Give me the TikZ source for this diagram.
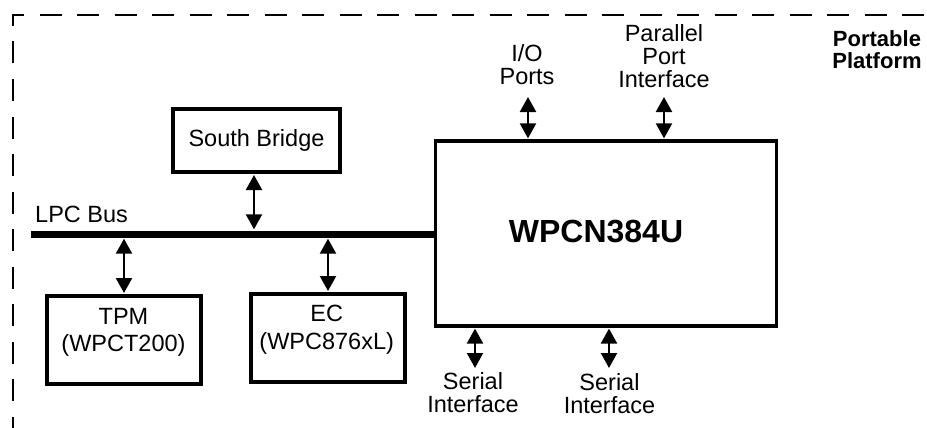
\documentclass[tikz,border=0pt]{standalone}
\usepackage{fontspec}
\setmainfont{Liberation Sans}
\usetikzlibrary{arrows.meta}
\begin{document}
\begin{tikzpicture}[x=1pt,y=-1pt,
  box/.style={draw,line width=3.6pt,inner sep=0pt},
  txt/.style={font=\fontsize{23.5}{23}\selectfont,align=center,inner sep=0pt},
  boxtxt/.style={font=\fontsize{23.5}{27.5}\selectfont,align=center,inner sep=0pt},
  biarrow/.style={line width=2.2pt,{Triangle[width=16pt,length=15pt]}-{Triangle[width=16pt,length=15pt]},shorten <=1pt,shorten >=1pt},
  frame/.style={line width=2.6pt,dash pattern=on 22pt off 15.5pt,dash phase=36pt}]
\useasboundingbox (0,0) rectangle (927,428);
% dashed platform frame
\coordinate (corner) at (13,15);
\coordinate (frameR) at (945,15);
\coordinate (frameB) at (13,440);
\draw[frame] (frameB) -- (corner) -- (frameR);
\node[font=\bfseries\fontsize{22}{22}\selectfont,align=center,inner sep=0pt] (plat) at (877,50) {Portable\\Platform};
% boxes
\node[box,minimum width=167.4pt,minimum height=63.4pt,font=\fontsize{23.5}{23}\selectfont] (sb) at (256.5,140.5) {South Bridge};
\node[draw,line width=3.2pt,inner sep=0pt,minimum width=341pt,minimum height=185pt] (wpcn) at (606,233.5) {};
\node[font=\bfseries\fontsize{32}{32}\selectfont,anchor=base,inner sep=0pt] (wpcnlbl) at (596,242) {WPCN384U};
\node[box,minimum width=154.4pt,minimum height=88.4pt] (tpm) at (124,340) {};
\node[boxtxt] (tpmtxt) at (123.5,332.2) {TPM\\(WPCT200)};
\node[box,minimum width=154.4pt,minimum height=88.4pt] (ec) at (328,338) {};
\node[boxtxt] (ectxt) at (326.7,329.7) {EC\\(WPC876xL)};
% LPC bus
\node[fill,inner sep=0pt,minimum width=406pt,minimum height=7pt] (bus) at (234,234) {};
\node[txt,anchor=base west] (lpc) at (35,222) {LPC Bus};
% bus arrows
\draw[biarrow] ([xshift=-2.5pt]sb.south) -- ([xshift=-2.5pt]sb.south |- bus.north);
\draw[biarrow] (tpm.north |- bus.south) -- (tpm.north);
\draw[biarrow] (ec.north |- bus.south) -- (ec.north);
% top interfaces
\node[txt] (iotxt) at (527,64.8) {I/O\\Ports};
\node[txt] (partxt) at (664,56.6) {Parallel\\Port\\Interface};
\coordinate (iotip) at (528,96);
\coordinate (partip) at (664,96);
\draw[biarrow] (iotip) -- (iotip |- wpcn.north);
\draw[biarrow] (partip) -- (partip |- wpcn.north);
% bottom interfaces
\node[txt] (s1txt) at (473,392.1) {Serial\\Interface};
\node[txt] (s2txt) at (609.5,394) {Serial\\Interface};
\coordinate (s1tip) at (475,369);
\coordinate (s2tip) at (609,369);
\draw[biarrow] (s1tip |- wpcn.south) -- (s1tip);
\draw[biarrow] (s2tip |- wpcn.south) -- (s2tip);
\end{tikzpicture}
\end{document}
